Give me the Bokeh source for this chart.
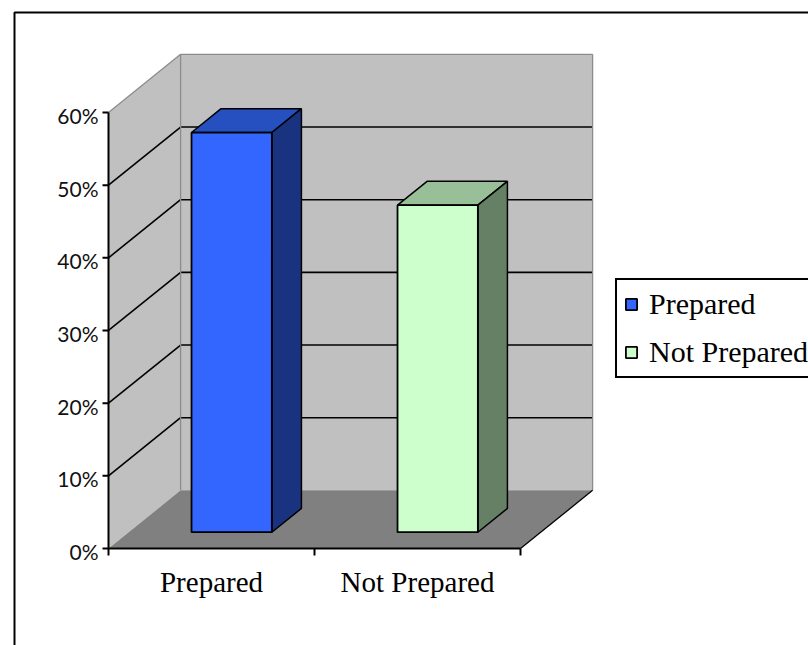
import math
from bokeh.plotting import figure
from bokeh.models import Range1d, Legend, LegendItem
from bokeh.core.properties import value
from bokeh.embed import file_html
from bokeh.resources import INLINE

# ---------------- data ----------------
categories = ["Prepared", "Not Prepared"]
values = [0.55, 0.45]
y_ticks = [0.0, 0.1, 0.2, 0.3, 0.4, 0.5, 0.6]
y_tick_labels = ["0%", "10%", "20%", "30%", "40%", "50%", "60%"]

# ---------------- styles / layout ----------------
front_colors = ["#3366FF", "#CCFFCC"]
top_colors = ["#2650BF", "#99BF99"]
side_colors = ["#1A3380", "#668066"]

W, H = 808, 645
AX_LEFT_PX = 108      # pixel x of the value axis
SLOT_PX = 206         # pixels per category slot
ZERO_PX = 548         # pixel y (from top) of the 0% level
UNIT_PX = 726.7       # pixels per 100%
DX, DY = 0.35, 0.08   # full depth offset in data units
BAR_W = 0.39
D_FRONT, D_BACK = 0.28, 0.69

x_range = Range1d(-AX_LEFT_PX / SLOT_PX, (W - AX_LEFT_PX) / SLOT_PX)
y_range = Range1d(-(H - ZERO_PX) / UNIT_PX, ZERO_PX / UNIT_PX)


def px_x(px):
    return x_range.start + px / SLOT_PX


def px_y(py):
    return y_range.end - py / UNIT_PX


def P(x, v, d):
    return x + d * DX, v + d * DY


def poly(points):
    xs = [p[0] for p in points]
    ys = [p[1] for p in points]
    return xs, ys


p = figure(width=W, height=H, x_range=x_range, y_range=y_range,
           x_axis_type=None, y_axis_type=None, toolbar_location=None,
           output_backend="svg", min_border=0)
p.grid.visible = False
p.outline_line_color = None
p.background_fill_color = "white"
p.border_fill_color = "white"

ncat = len(categories)
vmax = y_ticks[-1]

# walls and floor
side_wall = poly([P(0, vmax, 0), P(0, vmax, 1), P(0, 0, 1), P(0, 0, 0)])
back_wall = poly([P(0, 0, 1), P(ncat, 0, 1), P(ncat, vmax, 1), P(0, vmax, 1)])
floor = poly([P(0, 0, 0), P(ncat, 0, 0), P(ncat, 0, 1), P(0, 0, 1)])
p.patches([side_wall[0], back_wall[0]], [side_wall[1], back_wall[1]],
          fill_color="#C0C0C0", line_color=None)
p.patches([floor[0]], [floor[1]], fill_color="#808080", line_color=None)

# gridlines
gx0, gy0, gx1, gy1 = [], [], [], []
for t in y_ticks[1:-1]:
    a, b = P(0, t, 0), P(0, t, 1)
    c = P(ncat, t, 1)
    gx0 += [a[0], b[0]]
    gy0 += [a[1], b[1]]
    gx1 += [b[0], c[0]]
    gy1 += [b[1], c[1]]
p.segment(gx0, gy0, gx1, gy1, line_color="black", line_width=1.6)

# wall edges (gray)
e = [
    (P(0, vmax, 0), P(0, vmax, 1)),
    (P(0, vmax, 1), P(ncat, vmax, 1)),
    (P(0, 0, 1), P(0, vmax, 1)),
    (P(ncat, 0, 1), P(ncat, vmax, 1)),
]
p.segment([a[0] for a, b in e], [a[1] for a, b in e],
          [b[0] for a, b in e], [b[1] for a, b in e],
          line_color="#8C8C8C", line_width=1.3)

# floor right edge
a, b = P(ncat, 0, 0), P(ncat, 0, 1)
p.segment([a[0]], [a[1]], [b[0]], [b[1]], line_color="black", line_width=1.3)

# bars
for i, v in enumerate(values):
    x0 = i + 0.5 - BAR_W / 2
    x1 = i + 0.5 + BAR_W / 2
    top = poly([P(x0, v, D_FRONT), P(x1, v, D_FRONT), P(x1, v, D_BACK), P(x0, v, D_BACK)])
    side = poly([P(x1, 0, D_FRONT), P(x1, v, D_FRONT), P(x1, v, D_BACK), P(x1, 0, D_BACK)])
    p.patches([top[0]], [top[1]], fill_color=top_colors[i], line_color="black", line_width=1.5)
    p.patches([side[0]], [side[1]], fill_color=side_colors[i], line_color="black", line_width=1.5)

fronts = p.quad(
    left=[i + 0.5 - BAR_W / 2 + D_FRONT * DX for i in range(ncat)],
    right=[i + 0.5 + BAR_W / 2 + D_FRONT * DX for i in range(ncat)],
    bottom=[D_FRONT * DY] * ncat,
    top=[v + D_FRONT * DY for v in values],
    fill_color=front_colors, line_color="black", line_width=1.8)

# axes lines and ticks
p.segment([0, 0], [0, 0], [0, ncat], [vmax, 0], line_color="black", line_width=2)
p.ray(x=[0] * len(y_ticks), y=y_ticks, length=6, angle=math.pi,
      length_units="screen", line_color="black", line_width=2)
p.ray(x=list(range(ncat + 1)), y=[0] * (ncat + 1), length=7, angle=-math.pi / 2,
      length_units="screen", line_color="black", line_width=2)

# tick labels
p.text(x=[0] * len(y_ticks), y=y_ticks, text=y_tick_labels, x_offset=-10, y_offset=3,
       text_align="right", text_baseline="middle",
       text_font=value("Lato"), text_font_size="21px", text_color="#111111")
p.text(x=[i + 0.5 for i in range(ncat)], y=[0] * ncat, text=categories,
       y_offset=33, text_align="center", text_baseline="alphabetic",
       text_font=value("Liberation Serif"), text_font_size="29px", text_color="black")

# outer chart border
p.quad(left=[px_x(14)], right=[px_x(W + 20)], top=[px_y(12)], bottom=[px_y(H + 20)],
       fill_color=None, line_color="black", line_width=2)

legend = Legend(items=[LegendItem(label=categories[i], renderers=[fronts], index=i)
                       for i in range(ncat)],
                location=(615, H - 378),
                glyph_width=14, glyph_height=14, label_standoff=11,
                padding=7, spacing=14, margin=0,
                label_text_font="Liberation Serif", label_text_font_size="30px",
                label_text_color="black",
                border_line_color="black", border_line_width=2, border_line_alpha=1.0,
                background_fill_color="white", background_fill_alpha=1.0)
p.add_layout(legend)

open("out.html", "w").write(file_html(p, INLINE))
